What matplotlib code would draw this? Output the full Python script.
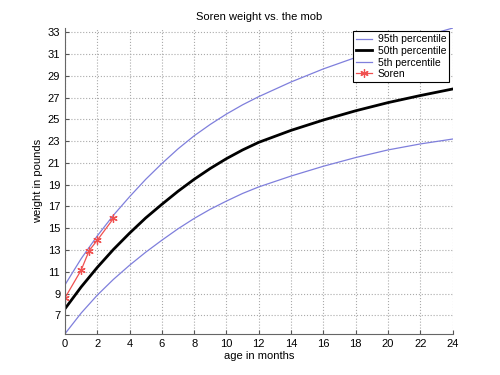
import matplotlib
matplotlib.use("Agg")
import matplotlib.pyplot as plt

plt.rcParams['font.family'] = ['Liberation Sans', 'DejaVu Sans']

# percentile curves (age in months, weight in pounds)
months = [0, 1, 2, 3, 4, 5, 6, 7, 8, 9, 10, 11, 12, 14, 16, 18, 20, 22, 24]
p95 = [9.8, 12.2, 14.3, 16.2, 17.9, 19.5, 20.95, 22.3, 23.5, 24.55, 25.5,
       26.35, 27.1, 28.45, 29.65, 30.7, 31.65, 32.55, 33.4]
p50 = [7.6, 9.6, 11.4, 13.05, 14.55, 15.95, 17.2, 18.4, 19.5, 20.5, 21.4,
       22.2, 22.9, 24.0, 24.95, 25.8, 26.55, 27.2, 27.8]
p5 = [5.3, 7.2, 8.85, 10.3, 11.6, 12.8, 13.9, 14.95, 15.9, 16.75, 17.5,
      18.2, 18.8, 19.8, 20.7, 21.5, 22.2, 22.75, 23.2]

soren_age = [0, 1, 1.5, 2, 3]
soren_wt = [8.6, 11.15, 12.95, 13.9, 15.9]

fig = plt.figure(figsize=(5, 3.75), dpi=100)
ax = fig.add_axes([0.13, 0.11, 0.775, 0.815])

blue = '#7f7fdc'
ax.plot(months, p95, color=blue, lw=0.9, label='95th percentile')
ax.plot(months, p50, color='black', lw=2, label='50th percentile')
ax.plot(months, p5, color=blue, lw=0.9, label='5th percentile')
ax.plot(soren_age, soren_wt, color='#f05050', lw=0.9, marker=(6, 2, 0), ms=6,
        mew=0.9, label='Soren')

ax.set_xlim(0, 24)
ax.set_ylim(5.3, 33.4)
ax.set_xticks(range(0, 25, 2))
ax.set_yticks(range(7, 34, 2))
ax.tick_params(direction='in', labelsize=8, length=3, colors='#555555',
               labelcolor='black')
ax.grid(True, ls=':', color='#aaaaaa', lw=0.8)
for s in ['top', 'right']:
    ax.spines[s].set_visible(False)
for s in ['left', 'bottom']:
    ax.spines[s].set_color('#666666')

ax.set_title('Soren weight vs. the mob', fontsize=8)
ax.set_xlabel('age in months', fontsize=8, labelpad=2)
ax.set_ylabel('weight in pounds', fontsize=8, labelpad=3)

leg = ax.legend(loc='upper right', fontsize=7.5, fancybox=False, framealpha=1,
                edgecolor='black', borderaxespad=0.3, handlelength=1.6,
                handletextpad=0.5, labelspacing=0.15, borderpad=0.3)
leg.get_frame().set_linewidth(0.8)

fig.savefig('out.png')
